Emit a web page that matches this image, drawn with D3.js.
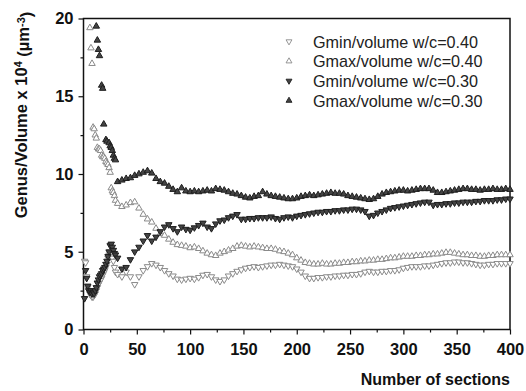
<!DOCTYPE html>
<html>
<head>
<meta charset="utf-8">
<script src="https://cdn.jsdelivr.net/npm/d3@7"></script>
<style>
  body { margin: 0; background: #fff; }
  svg { display: block; font-family: "Liberation Sans", Arial, sans-serif; }
</style>
</head>
<body>
<svg id="chart" width="526" height="391"></svg>
<script>
// Number of sections sampled (x values shared by all four series)
const sections = [
  1, 2, 3, 4, 5, 6, 7, 8, 9, 10,
  11, 12, 13, 14, 15, 16, 17, 18, 19, 20,
  21, 22, 23, 24, 25, 26, 27, 28, 29, 30,
  32, 36, 40, 44, 48, 52, 56, 60, 64, 68,
  72, 76, 80, 84, 88, 92, 96, 100, 104, 108,
  112, 116, 120, 124, 128, 132, 136, 140, 144, 148,
  152, 156, 160, 164, 168, 172, 176, 180, 184, 188,
  192, 196, 200, 204, 208, 212, 216, 220, 224, 228,
  232, 236, 240, 244, 248, 252, 256, 260, 264, 268,
  272, 276, 280, 284, 288, 292, 296, 300, 304, 308,
  312, 316, 320, 324, 328, 332, 336, 340, 344, 348,
  352, 356, 360, 364, 368, 372, 376, 380, 384, 388,
  392, 396, 400
];

// Genus per volume (x 10^4 um^-3)
const gmin040 = [
  4.4, 4.3, 3.4, 2.7, 2.5, 2.3, 2.2, 2.1, 2.1, 2.2,
  2.3, 2.5, 2.7, 2.9, 3.05, 3.2, 3.3, 3.5, 3.65, 3.8,
  4.0, 4.2, 4.6, 4.8, 5.0, 4.8, 4.6, 4.4, 4.0, 3.7,
  3.55, 3.4, 3.7, 3.4, 2.9, 3.4, 3.8, 4.05, 4.25, 4.15,
  4.0, 3.8, 3.6, 3.45, 3.25, 3.2, 3.25, 3.3, 3.25, 3.35,
  3.5, 3.55, 3.4, 3.2, 3.1, 3.2, 3.45, 3.6, 3.75, 3.85,
  3.95, 4.0, 4.05, 4.0, 4.05, 4.1, 4.15, 4.15, 4.2, 4.15,
  4.1, 4.05, 3.9, 3.7, 3.45, 3.3, 3.3, 3.35, 3.35, 3.4,
  3.4, 3.45, 3.45, 3.5, 3.5, 3.55, 3.55, 3.6, 3.7, 3.75,
  3.7, 3.7, 3.75, 3.75, 3.8, 3.8, 3.85, 3.95, 4.0, 4.05,
  4.05, 4.05, 4.1, 4.1, 4.15, 4.2, 4.25, 4.3, 4.3, 4.35,
  4.35, 4.3, 4.3, 4.25, 4.2, 4.15, 4.15, 4.2, 4.2, 4.25,
  4.25, 4.25, 4.25
];

const gmax040 = [
  null, null, null, null, null, 19.4, 18.1, 17.1, 13.0, 12.9,
  12.5, 12.3, 11.7, 11.6, 11.6, 11.5, 11.2, 11.1, 11.1, 11.0,
  10.8, 10.7, 10.6, 10.4, 10.1, 9.1, 8.9, 8.8, 8.6, 8.3,
  8.1, 7.9, 8.0, 8.15, 8.2, 7.8, 7.4, 7.1, 6.9, 6.5,
  6.15, 6.05, 5.8, 5.6, 5.45, 5.4, 5.35, 5.25, 5.3, 5.2,
  5.05, 4.9, 4.8, 4.75, 4.9, 5.0, 5.1, 5.2, 5.35, 5.4,
  5.35, 5.3, 5.35, 5.3, 5.25, 5.2, 5.2, 5.15, 5.05, 5.0,
  4.9, 4.8, 4.6, 4.45, 4.3, 4.25, 4.2, 4.2, 4.25, 4.2,
  4.2, 4.25, 4.25, 4.3, 4.3, 4.35, 4.35, 4.4, 4.4, 4.45,
  4.45, 4.5, 4.5, 4.55, 4.6, 4.6, 4.65, 4.7, 4.7, 4.7,
  4.75, 4.75, 4.8, 4.8, 4.85, 4.85, 4.9, 4.95, 4.95, 4.9,
  4.85, 4.8, 4.8, 4.75, 4.75, 4.7, 4.7, 4.75, 4.75, 4.8,
  4.8, 4.8, 4.8
];

const gmin030 = [
  2.0, 3.8, 3.3, 2.8, 2.5, 2.4, 2.5, 2.3, 2.4, 2.3,
  2.5, 2.7, 3.0, 3.2, 3.4, 3.5, 3.6, 3.8, 3.9, 4.0,
  4.2, 4.4, 4.7, 5.0, 5.4, 5.5, 5.3, 5.1, 4.9, 4.8,
  4.6, 3.9, 4.0, 4.5, 5.0, 5.3, 5.7, 6.05, 5.7, 5.95,
  6.3, 6.6, 6.75, 6.5, 6.3, 6.6, 6.45, 6.4, 6.55, 6.7,
  6.85, 6.6, 6.5, 6.8, 7.0, 7.05, 7.2, 7.3, 7.4, 7.1,
  7.1, 7.15, 7.15, 7.2, 7.2, 7.2, 7.25, 7.15, 7.1, 7.2,
  7.25, 7.2, 7.3, 7.35, 7.4, 7.45, 7.5, 7.55, 7.55, 7.6,
  7.6, 7.65, 7.65, 7.7, 7.7, 7.75, 7.75, 7.7, 7.6, 7.3,
  7.35, 7.5, 7.6, 7.7, 7.8, 7.85, 7.9, 7.95, 8.0, 8.05,
  8.1, 8.15, 8.2, 8.2, 8.0, 8.05, 8.05, 8.1, 8.1, 8.15,
  8.15, 8.2, 8.2, 8.2, 8.25, 8.25, 8.3, 8.3, 8.3, 8.35,
  8.35, 8.4, 8.4
];

const gmax030 = [
  null, null, null, null, null, null, null, null, null, null,
  null, 19.5, 18.6, 18.0, 17.6, null, 15.7, 15.5, 13.2, null,
  12.2, 12.1, null, 12.0, 11.8, 11.7, 11.5, 11.2, 11.0, 10.9,
  9.5, 9.6, 9.7, 9.75, 9.9, 10.0, 10.1, 10.2, 10.05, 9.7,
  9.5, 9.4, 9.2, 9.0, 8.85, 9.1, 8.9, 8.85, 8.9, 8.85,
  8.9, 8.95, 8.9, 9.05, 9.0, 8.95, 8.85, 8.75, 8.7, 8.6,
  8.5, 8.45, 8.55, 8.6, 8.85, 8.7, 8.6, 8.55, 8.5, 8.45,
  8.4, 8.4, 8.45, 8.55, 8.6, 8.65, 8.6, 8.65, 8.7, 8.75,
  8.8, 8.75, 8.75, 8.7, 8.6, 8.55, 8.5, 8.45, 8.4, 8.35,
  8.4, 8.55, 8.7, 8.8, 8.85, 8.9, 8.95, 8.95, 8.9, 8.95,
  9.0, 9.05, 9.05, 9.05, 8.95, 8.8, 8.8, 8.85, 8.9, 8.95,
  9.0, 9.05, 9.05, 9.0, 9.0, 8.95, 9.0, 9.0, 9.05, 9.0,
  9.0, 9.05, 9.0
];

const seriesLabels = [
  "Gmin/volume w/c=0.40",
  "Gmax/volume w/c=0.40",
  "Gmin/volume w/c=0.30",
  "Gmax/volume w/c=0.30"
];

const xTicks = [0, 50, 100, 150, 200, 250, 300, 350, 400];
const xMinorTicks = [25, 75, 125, 175, 225, 275, 325, 375];
const yTicks = [0, 5, 10, 15, 20];
const yMinorTicks = [2.5, 7.5, 12.5, 17.5];

const series = [
  { label: seriesLabels[0], values: gmin040, down: true,  fill: "#ffffff", stroke: "#8a8a8a" },
  { label: seriesLabels[1], values: gmax040, down: false, fill: "#ffffff", stroke: "#8a8a8a" },
  { label: seriesLabels[2], values: gmin030, down: true,  fill: "#444444", stroke: "#1e1e1e" },
  { label: seriesLabels[3], values: gmax030, down: false, fill: "#444444", stroke: "#1e1e1e" }
];

const svg = d3.select("#chart");
const plotLeft = 83.5, plotRight = 510, plotTop = 18.5, plotBottom = 329.5;

const x = d3.scaleLinear().domain([0, 400]).range([plotLeft, plotRight]);
const y = d3.scaleLinear().domain([0, 20]).range([plotBottom, plotTop]);

const tri = d3.symbol().type(d3.symbolTriangle).size(18);
const legendTri = d3.symbol().type(d3.symbolTriangle).size(15);

// Axes: major ticks with labels, minor ticks without
function styleAxis(g) {
  g.select(".domain").remove();
  g.selectAll(".tick line").attr("stroke", "#111").attr("stroke-width", 1.2);
  g.selectAll(".tick text")
    .attr("fill", "#111")
    .style("font-size", "16.5px")
    .style("font-weight", "bold")
    .style("font-family", "'Liberation Sans', Arial, sans-serif");
}

svg.append("g")
  .attr("transform", `translate(0,${plotBottom})`)
  .call(d3.axisBottom(x).tickValues(xTicks).tickSize(5).tickPadding(9).tickFormat(d3.format("d")))
  .call(styleAxis);

svg.append("g")
  .attr("transform", `translate(0,${plotBottom})`)
  .call(d3.axisBottom(x).tickValues(xMinorTicks).tickSize(3).tickFormat(""))
  .call(styleAxis);

svg.append("g")
  .attr("transform", `translate(${plotLeft},0)`)
  .call(d3.axisLeft(y).tickValues(yTicks).tickSize(5).tickPadding(5).tickFormat(d3.format("d")))
  .call(styleAxis);

svg.append("g")
  .attr("transform", `translate(${plotLeft},0)`)
  .call(d3.axisLeft(y).tickValues(yMinorTicks).tickSize(3).tickFormat(""))
  .call(styleAxis);

// Plot frame
svg.append("rect")
  .attr("x", plotLeft).attr("y", plotTop)
  .attr("width", plotRight - plotLeft).attr("height", plotBottom - plotTop)
  .attr("fill", "none").attr("stroke", "#111").attr("stroke-width", 1.5);

// Markers
series.forEach(s => {
  const pts = sections.map((sec, i) => ({ sec, v: s.values[i] })).filter(d => d.v != null);
  svg.append("g")
    .selectAll("path")
    .data(pts)
    .join("path")
    .attr("d", tri)
    .attr("transform", d => `translate(${x(d.sec)},${y(d.v)})${s.down ? " rotate(180)" : ""}`)
    .attr("fill", s.fill)
    .attr("stroke", s.stroke)
    .attr("stroke-width", 1);
});

// Legend
const legend = svg.append("g");
series.forEach((s, i) => {
  const cy = 41.5 + i * 19.7;
  legend.append("path")
    .attr("d", legendTri)
    .attr("transform", `translate(289,${cy})${s.down ? " rotate(180)" : ""}`)
    .attr("fill", s.fill)
    .attr("stroke", s.stroke)
    .attr("stroke-width", 0.9);
  legend.append("text")
    .attr("x", 313).attr("y", cy + 6)
    .attr("fill", "#222")
    .style("font-size", "16.2px")
    .text(s.label);
});

// Axis titles
svg.append("text")
  .attr("x", plotRight).attr("y", 385)
  .attr("text-anchor", "end")
  .attr("fill", "#111")
  .style("font-size", "16px")
  .style("font-weight", "bold")
  .text("Number of sections");

const yTitle = svg.append("text")
  .attr("transform", "translate(27,115) rotate(-90)")
  .attr("text-anchor", "middle")
  .attr("fill", "#111")
  .style("font-size", "16.5px")
  .style("font-weight", "bold");
yTitle.append("tspan").text("Genus/Volume x 10");
yTitle.append("tspan").attr("dy", "-0.45em").style("font-size", "11px").text("4");
yTitle.append("tspan").attr("dy", "0.45em").text(" (\u00B5m");
yTitle.append("tspan").attr("dy", "-0.45em").style("font-size", "11px").text("-3");
yTitle.append("tspan").attr("dy", "0.45em").text(")");
</script>
</body>
</html>
